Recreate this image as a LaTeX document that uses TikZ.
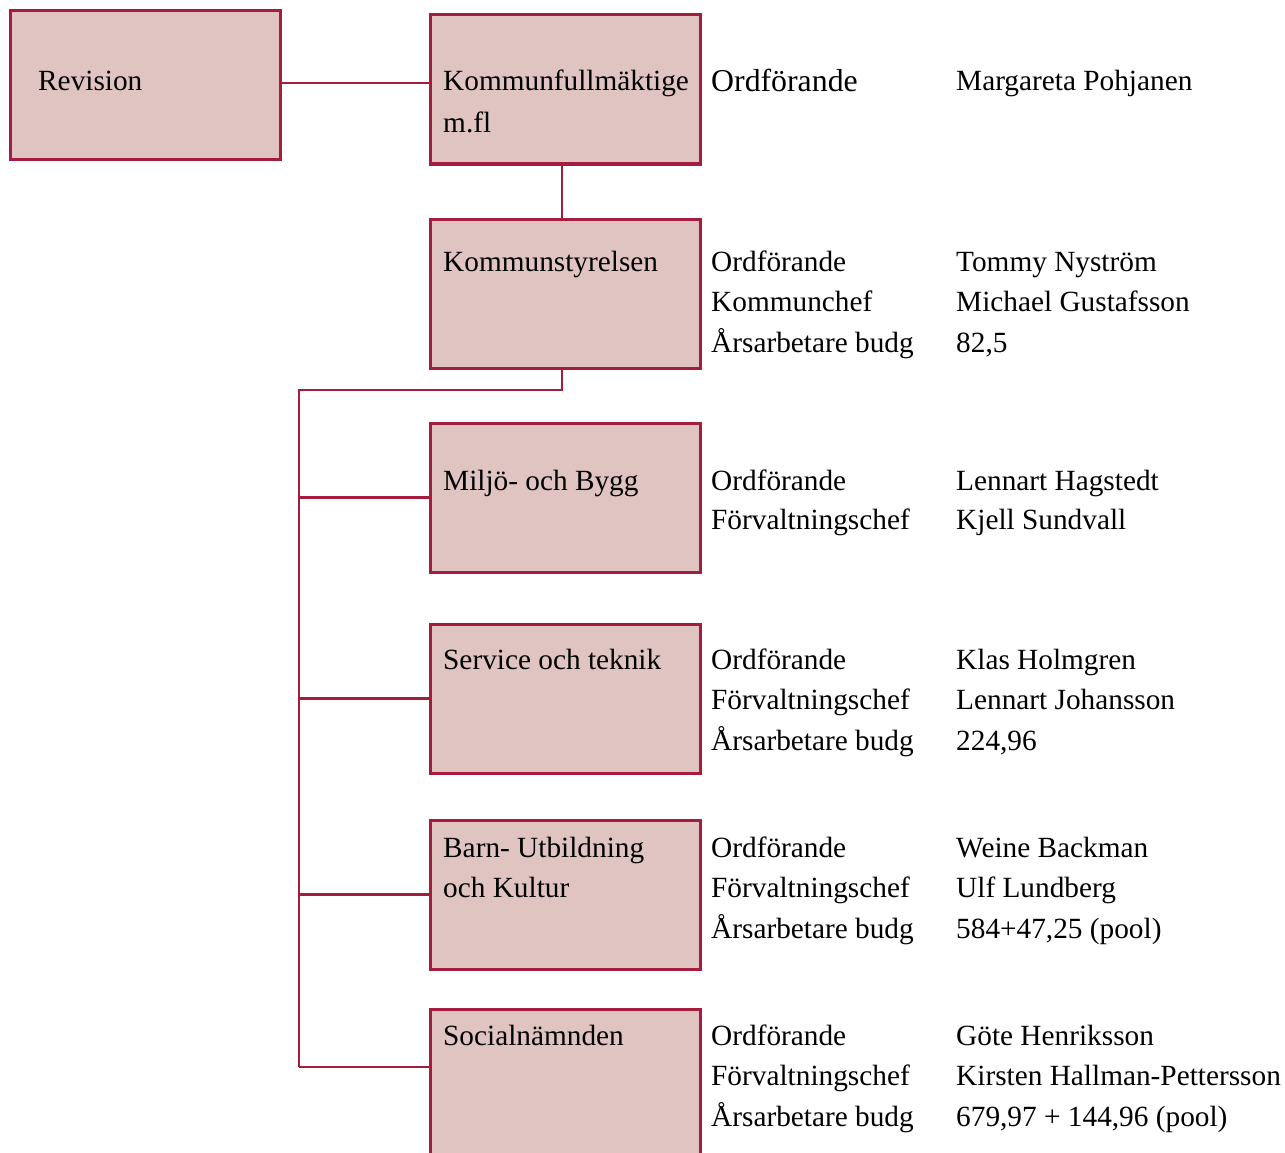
\documentclass[tikz,border=0pt]{standalone}
\usepackage{fontspec}
\setmainfont{Liberation Serif}
\definecolor{bord}{HTML}{A51C3C}
\definecolor{boxfill}{HTML}{E0C4C1}
\begin{document}
\begin{tikzpicture}[x=1pt,y=-1pt,
  orgbox/.style={draw=bord, fill=boxfill, line width=3pt, minimum width=270pt, minimum height=149pt, anchor=north west, inner sep=0pt, outer sep=0pt},
  conn/.style={draw=bord, line width=2.6pt},
  txt/.style={anchor=base west, inner sep=0pt, font=\fontsize{29.3}{40.5}\selectfont},
  bigtxt/.style={anchor=base west, inner sep=0pt, font=\fontsize{31.8}{40.5}\selectfont}]
\useasboundingbox (0,0) rectangle (1285,1153);
\clip (0,0) rectangle (1285,1153);
% boxes
\node[orgbox] (rev) at (10,11) {};
\node[orgbox] (kf) at (430,15) {};
\node[orgbox] (ks) at (430,219) {};
\node[orgbox] (mb) at (430,423) {};
\node[orgbox] (st) at (430,624) {};
\node[orgbox] (bu) at (430,820) {};
\node[orgbox, minimum height=155pt] (so) at (430,1009) {};
% connectors
\coordinate (c1) at ([yshift=2.5pt]rev.east);
\draw[conn] (c1) -- (c1 -| kf.west);
\draw[conn] ([xshift=-3pt]kf.south) -- ([xshift=-3pt]ks.north);
\coordinate (bus) at (299,390);
\coordinate (soc) at ([yshift=-58pt]so.north west);
\draw[conn] ([xshift=-3pt]ks.south) |- (bus) -- (bus |- soc);
\draw[conn] (bus |- mb.west) -- (mb.west);
\draw[conn] (bus |- st.west) -- (st.west);
\draw[conn] (bus |- bu.west) -- (bu.west);
\draw[conn] (bus |- soc) -- (soc);
% box texts
\node[txt] (t-rev) at (38,91) {Revision};
\node[txt] (t-kf1) at (443,91) {Kommunfullmäktige};
\node[txt] (t-kf2) at (443,132) {m.fl};
\node[txt] (t-ks) at (443,271) {Kommunstyrelsen};
\node[txt] (t-mb) at (443,490) {Miljö- och Bygg};
\node[txt] (t-st) at (443,669) {Service och teknik};
\node[txt] (t-bu1) at (443,857) {Barn- Utbildning};
\node[txt] (t-bu2) at (443,897) {och Kultur};
\node[txt] (t-so) at (443,1045) {Socialnämnden};
% role / name texts
\node[bigtxt] (r-kf) at (711,92) {Ordförande};
\node[txt] (n-kf) at (956,91) {Margareta Pohjanen};
\node[txt] (r-ks1) at (711,271) {Ordförande};
\node[txt] (r-ks2) at (711,311) {Kommunchef};
\node[txt] (r-ks3) at (711,352) {Årsarbetare budg};
\node[txt] (n-ks1) at (956,271) {Tommy Nyström};
\node[txt] (n-ks2) at (956,311) {Michael Gustafsson};
\node[txt] (n-ks3) at (956,352) {82,5};
\node[txt] (r-mb1) at (711,490) {Ordförande};
\node[txt] (r-mb2) at (711,529) {Förvaltningschef};
\node[txt] (n-mb1) at (956,490) {Lennart Hagstedt};
\node[txt] (n-mb2) at (956,529) {Kjell Sundvall};
\node[txt] (r-st1) at (711,669) {Ordförande};
\node[txt] (r-st2) at (711,709) {Förvaltningschef};
\node[txt] (r-st3) at (711,750) {Årsarbetare budg};
\node[txt] (n-st1) at (956,669) {Klas Holmgren};
\node[txt] (n-st2) at (956,709) {Lennart Johansson};
\node[txt] (n-st3) at (956,750) {224,96};
\node[txt] (r-bu1) at (711,857) {Ordförande};
\node[txt] (r-bu2) at (711,897) {Förvaltningschef};
\node[txt] (r-bu3) at (711,938) {Årsarbetare budg};
\node[txt] (n-bu1) at (956,857) {Weine Backman};
\node[txt] (n-bu2) at (956,897) {Ulf Lundberg};
\node[txt] (n-bu3) at (956,938) {584+47,25 (pool)};
\node[txt] (r-so1) at (711,1045) {Ordförande};
\node[txt] (r-so2) at (711,1085) {Förvaltningschef};
\node[txt] (r-so3) at (711,1126) {Årsarbetare budg};
\node[txt] (n-so1) at (956,1045) {Göte Henriksson};
\node[txt] (n-so2) at (956,1085) {Kirsten Hallman-Pettersson};
\node[txt] (n-so3) at (956,1126) {679,97 + 144,96 (pool)};
\end{tikzpicture}
\end{document}
